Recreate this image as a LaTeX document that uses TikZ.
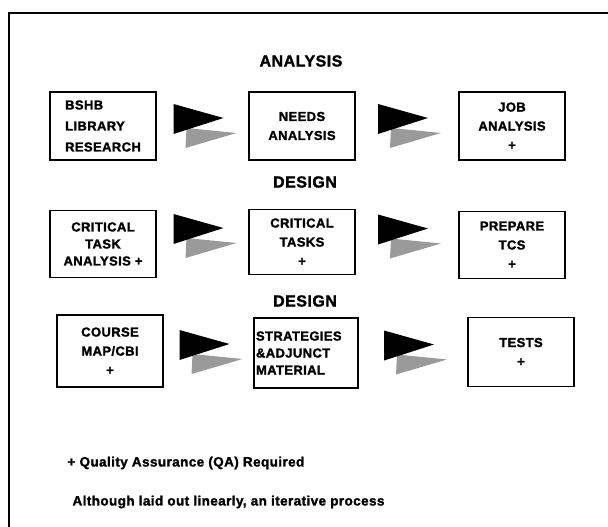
\documentclass[tikz,border=0pt]{standalone}
\usepackage{fontspec}
\setmainfont{Liberation Sans}[BoldFeatures={FakeBold=1.6, LetterSpace=3}]
\usepackage{tikz}
\usetikzlibrary{calc}
\usepackage{xcolor}
\definecolor{stipplegray}{HTML}{9A9A9A}

\begin{document}
\begin{tikzpicture}[x=1pt, y=-1pt,
  stagebox/.style={rectangle, draw=black, line width=1.2pt,
      minimum width=106pt, minimum height=68pt, inner sep=2pt,
      align=center, font=\bfseries\fontsize{13}{19}\selectfont},
  phase/.style={font=\bfseries\fontsize{16}{18}\selectfont},
  note/.style={anchor=west, font=\bfseries\fontsize{13.5}{16}\selectfont},
  blockarrow/.pic={
    \fill[stipplegray] (-16,2) -- (-17,22) -- (34,7) -- cycle;
    \fill[black] (-29,-22) -- (-29,8) -- (21,-8) -- cycle;
  }]
\useasboundingbox (0,0) rectangle (608,527);
\draw[line width=1.2pt] (608,13) -- (9,13) -- (9,527);

% analysis row
\node[phase] (analysis) at (301,61) {ANALYSIS};
\node[stagebox, align=left, font=\bfseries\fontsize{13}{21}\selectfont] (bshb) at (103,126) {BSHB\\LIBRARY\\RESEARCH};
\node[stagebox] (needs) at (302,126) {NEEDS\\ANALYSIS};
\node[stagebox] (job) at (512,126) {JOB\\ANALYSIS\\+};
\pic at ($(bshb.east)!0.5!(needs.west)$) {blockarrow};
\pic at ($(needs.east)!0.5!(job.west)$) {blockarrow};

% first design row
\node[phase] (design1) at (305,182) {DESIGN};
\node[stagebox, minimum height=67pt, font=\bfseries\fontsize{13}{17}\selectfont] (cta) at (103,244) {CRITICAL\\TASK\\ANALYSIS +};
\node[stagebox, minimum height=65pt] (tasks) at (302,242) {CRITICAL\\TASKS\\+};
\node[stagebox, minimum height=67pt] (tcs) at (512,245) {PREPARE\\TCS\\+};
\pic at ($(cta.east)!0.5!(tasks.west)+(0,-7)$) {blockarrow};
\pic at ($(tasks.east)!0.5!(tcs.west)+(0,-7)$) {blockarrow};

% second design row
\node[phase] (design2) at (305,301) {DESIGN};
\node[stagebox, minimum height=72pt, font=\bfseries\fontsize{13}{19}\selectfont] (course) at (110,351) {COURSE\\MAP/CBI\\+};
\node[stagebox, minimum width=104pt, minimum height=70pt, text width=100pt, align=left,
      font=\bfseries\fontsize{13}{17}\selectfont] (strat) at (306,353) {STRATEGIES\\\&ADJUNCT\\MATERIAL};
\node[stagebox, minimum height=69pt] (tests) at (521,352) {TESTS\\+};
\pic at ($(course.east)!0.5!(strat.west)$) {blockarrow};
\pic at ($(strat.east)!0.5!(tests.west)$) {blockarrow};

% notes
\node[note] (qa) at (64,463) {+ Quality Assurance (QA) Required};
\node[note] (iter) at (69,502) {Although laid out linearly, an iterative process};
\end{tikzpicture}
\end{document}
